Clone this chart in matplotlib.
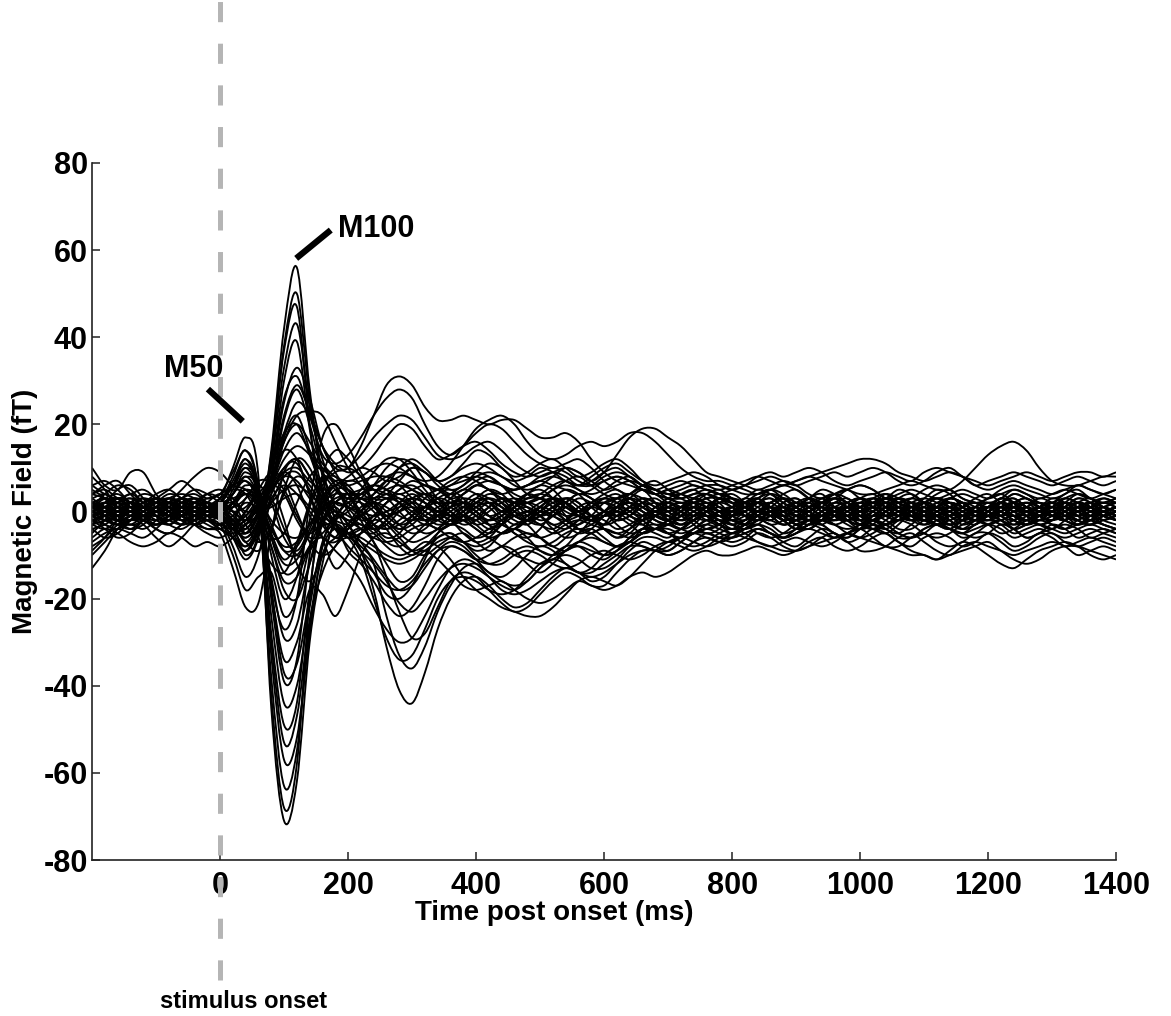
import numpy as np
import matplotlib
matplotlib.use("Agg")
import matplotlib.pyplot as plt
from matplotlib.path import Path
from matplotlib.patches import PathPatch

plt.rcParams['font.family'] = ['Liberation Sans', 'DejaVu Sans']
plt.rcParams['font.weight'] = 'bold'
plt.rcParams['axes.unicode_minus'] = False
plt.rcParams['lines.scale_dashes'] = False

# sampling grid of the traces (ms), one value every 20 ms
time_ms = np.arange(-200, 1401, 20)

# magnetic field per sensor (fT)
channels = [
    [2, 3, 1, -1, -2,  0, 2, 1, -1, 0,  1, -3, -10, -5, 14,  42, 56, 28, 8, -2,  -9, -12, -16, -21, -24,  -22, -17, -11, -8, -9,  -11, -10, -8, -9, -12,  -14, -12, -9, -7, -8,  -10, -9, -6, -4, -5,  -6, -4, -2, -1, -3,  -4, -3, -1, 0, -1,  -3, -2, 0, 1, -1,  -2, 0, 2, 1, -1,  -2, 0, 1, -1, -2,  0, 1, -1, -2, 0,  1, 2, 0, -1, 0,  1],
    [-2, -1, 1, 2, 1,  -1, -2, 0, 1, 0,  -1, -5, -9, -4, 12,  38, 50, 26, 9, 1,  -5, -9, -14, -19, -20,  -17, -11, -5, -3, -4,  -6, -5, -2, -1, -3,  -6, -8, -6, -3, -2,  -4, -6, -4, -1, 0,  -2, -3, -1, 1, 0,  -2, -1, 1, 2, 0,  -2, -1, 1, 3, 2,  0, -1, 1, 3, 2,  0, -2, -1, 1, 2,  0, -1, 1, 2, 1,  -1, 0, 2, 1, -1,  0],
    [1, 3, 4, 2, 0,  -1, 1, 3, 2, 0,  -2, -6, -9, -3, 13,  37, 47, 20, -1, -6,  -5, -4, -7, -12, -16,  -15, -10, -6, -5, -7,  -9, -8, -5, -4, -6,  -9, -10, -8, -5, -4,  -6, -8, -7, -4, -3,  -5, -6, -4, -2, -3,  -5, -3, -1, 0, -2,  -4, -3, -1, 0, -2,  -3, -1, 1, 0, -2,  -3, -1, 0, -2, -3,  -1, 0, -2, -3, -1,  0, -2, -3, -1, 0,  -2],
    [0, -1, -2, -1, 1,  2, 1, -1, -2, -1,  1, -2, -7, -2, 11,  33, 43, 24, 12, 6,  3, 4, 5, 4, 2,  0, -2, -1, 1, 2,  1, -1, -2, 0, 2,  3, 2, 0, -1, 1,  3, 4, 2, 0, -1,  1, 2, 1, -1, 0,  1, 2, 0, -1, 1,  2, 0, -2, -1, 1,  2, 0, -1, 1, 2,  0, -1, 0, 1, 2,  0, -1, 1, 2, 0,  -1, 0, 1, 2, 1,  0],
    [-4, -3, -1, 0, -2,  -3, -2, 0, 1, -1,  -2, -6, -11, -6, 8,  30, 39, 19, 5, -1,  0, 3, 6, 10, 12,  11, 7, 3, 2, 4,  6, 5, 3, 2, 4,  6, 5, 2, 0, 1,  3, 2, 0, -1, 0,  2, 1, -1, -2, 0,  1, -1, -2, 0, 1,  -1, -2, 0, 2, 1,  -1, 0, 2, 1, -1,  -2, 0, 1, -1, -2,  0, 1, -1, -2, 0,  1, -1, -2, 0, 1,  -1],
    [2, 1, 0, 1, 3,  2, 0, -1, 1, 2,  0, -4, -8, -3, 8,  25, 33, 26, 15, 10,  10, 15, 22, 29, 31,  29, 24, 21, 21, 22,  21, 20, 21, 21, 19,  17, 17, 18, 16, 12,  9, 7, 6, 5, 4,  5, 4, 3, 2, 2,  3, 2, 0, 1, 3,  2, 0, -1, 1, 2,  0, -1, 1, 3, 2,  0, 1, 2, 0, -1,  1, 3, 2, 0, 1,  2, 0, -1, 1, 2,  1],
    [-1, 0, 2, 3, 1,  -1, 0, 2, 1, -1,  0, -2, -5, 0, 10,  26, 31, 22, 13, 11,  13, 17, 22, 26, 28,  26, 20, 15, 13, 15,  18, 20, 19, 16, 13,  11, 10, 11, 12, 10,  7, 5, 4, 6, 7,  5, 3, 2, 3, 4,  3, 1, 0, 2, 3,  1, -1, 0, 2, 3,  1, 0, 2, 3, 1,  0, 1, 3, 2, 0,  1, 3, 2, 0, 1,  3, 2, 0, 1, 3,  2],
    [1, 0, -2, -3, -1,  1, 2, 0, -1, 0,  2, 0, -5, -1, 8,  22, 29, 23, 15, 9,  5, 3, 4, 7, 10,  11, 9, 7, 8, 11,  14, 13, 10, 8, 9,  11, 12, 10, 8, 9,  11, 12, 10, 7, 5,  4, 3, 4, 5, 4,  2, 1, 3, 4, 2,  0, 1, 3, 4, 2,  1, 2, 4, 3, 1,  0, 2, 3, 2, 0,  1, 3, 2, 0, 1,  2, 3, 2, 0, 1,  2],
    [4, 3, 1, 0, 1,  2, 1, -1, 0, 1,  -1, -4, -4, 0, 7,  18, 25, 22, 15, 11,  9, 10, 13, 17, 20,  19, 15, 12, 13, 15,  16, 14, 11, 9, 8,  9, 10, 9, 7, 6,  7, 8, 7, 5, 4,  3, 2, 2, 3, 3,  1, 0, 2, 3, 1,  -1, 0, 2, 3, 1,  0, 1, 3, 2, 0,  -1, 1, 2, 1, -1,  0, 2, 3, 1, 0,  1, 3, 2, 0, 1,  2],
    [-1, -2, -1, 0, 2,  3, 2, 0, -1, 0,  1, -1, -4, 0, 6,  16, 22, 23, 22, 16,  10, 6, 3, 3, 5,  7, 6, 5, 6, 8,  9, 8, 6, 5, 6,  8, 9, 8, 6, 7,  9, 10, 8, 6, 5,  4, 5, 6, 5, 4,  3, 2, 3, 5, 4,  2, 1, 2, 4, 5,  3, 2, 3, 5, 4,  2, 1, 3, 4, 3,  2, 3, 5, 4, 2,  1, 3, 4, 3, 2,  3],
    [0, 1, 2, 1, -1,  -2, -1, 1, 2, 1,  0, -2, -5, -1, 6,  16, 20, 16, 11, 8,  7, 8, 10, 11, 10,  8, 6, 5, 6, 7,  8, 7, 6, 5, 6,  7, 8, 7, 6, 6,  8, 9, 8, 6, 5,  4, 4, 5, 6, 6,  5, 4, 4, 5, 6,  7, 8, 7, 6, 5,  4, 4, 5, 6, 7,  6, 5, 5, 7, 10,  13, 15, 16, 14, 10,  7, 6, 6, 7, 8,  8],
    [2, 3, 2, 0, -1,  0, 2, 3, 2, 1,  0, -2, -3, 1, 6,  14, 18, 14, 10, 7,  6, 7, 8, 8, 7,  5, 4, 5, 7, 8,  7, 5, 4, 5, 6,  7, 6, 5, 4, 5,  7, 8, 7, 5, 4,  5, 6, 7, 6, 5,  6, 7, 8, 7, 6,  7, 8, 9, 10, 11,  12, 12, 11, 9, 8,  7, 8, 9, 8, 6,  5, 6, 7, 6, 5,  4, 5, 6, 5, 4,  5],
    [-3, -2, 0, 1, 0,  -2, -3, -1, 1, 0,  -1, -3, -2, 2, 6,  12, 15, 13, 9, 5,  2, 0, -1, 0, 2,  3, 2, 0, -1, 0,  2, 3, 1, -1, -2,  -1, 1, 2, 0, -2,  -1, 1, 2, 0, -2,  -3, -1, 1, 0, -2,  -1, 1, 2, 0, -2,  -1, 1, 2, 0, -2,  -1, 1, 2, 0, -2,  -1, 0, 2, 1, -1,  -2, 0, 1, -1, -2,  0, 2, 1, -1, 0,  1],
    [1, -1, -2, 0, 1,  -1, -2, 0, 2, 1,  -1, -3, -2, 2, 6,  10, 12, 8, 2, -4,  -8, -11, -14, -17, -18,  -16, -12, -9, -8, -9,  -11, -12, -11, -9, -8,  -9, -10, -9, -7, -6,  -7, -8, -7, -5, -4,  -5, -6, -5, -3, -2,  -3, -4, -3, -1, -2,  -4, -3, -1, 0, -2,  -3, -2, 0, 1, -1,  -2, -1, 1, 0, -1,  -2, -1, 1, 0, -1,  -2, 0, 1, -1, -2,  -1],
    [1, 2, 0, -1, 0,  1, 2, 1, 0, 1,  3, 10, 17, 8, -45,  -71, -62, -30, -12, -2,  2, 2, 0, -4, -8,  -10, -8, -5, -3, -2,  -4, -6, -5, -3, -2,  -3, -5, -4, -2, -1,  -2, -4, -3, -1, 0,  -1, -3, -2, 0, 1,  0, -1, -2, 0, 1,  -1, -2, 0, 1, 0,  -1, -2, 0, 1, 0,  -2, -1, 1, 0, -1,  -2, 0, 1, 0, -1,  -2, -1, 1, 0, -1,  -2],
    [-2, -1, 1, 2, 1,  0, -1, 0, 1, 0,  2, 8, 14, 4, -42,  -68, -58, -20, 4, 10,  10, 8, 2, -2, -5,  -7, -6, -4, -2, -1,  -2, -4, -3, -1, 0,  -1, -3, -2, 0, 1,  0, -2, -1, 1, 2,  1, -1, 0, 2, 1,  -1, 0, 2, 1, -1,  -2, 0, 1, -1, -2,  0, 1, 2, 0, -1,  0, 2, 1, -1, 0,  2, 1, -1, 0, 1,  -1, -2, 0, 1, -1,  0],
    [0, 1, 3, 2, 0,  -1, 0, 2, 3, 2,  2, 6, 12, 3, -38,  -63, -55, -26, -10, -6,  -3, 0, 2, 1, -1,  -2, -1, 1, 2, 1,  -1, -2, -1, 1, 2,  1, -1, -2, -1, 1,  2, 1, -1, -2, -1,  0, 1, 0, -1, 0,  1, 2, 0, -1, 0,  2, 1, -1, 0, 1,  -1, -2, 0, 1, 0,  -2, -1, 1, 2, 0,  -1, 0, 2, 1, -1,  0, 1, -1, -2, 0,  1],
    [-3, -4, -2, 0, 1,  0, -2, -3, -2, 0,  1, 4, 9, 2, -33,  -57, -52, -28, -8, -1,  -3, -9, -18, -31, -41,  -44, -37, -27, -20, -16,  -15, -17, -20, -22, -21,  -18, -15, -13, -14, -16,  -15, -12, -9, -7, -8,  -9, -7, -5, -4, -5,  -6, -5, -4, -5, -6,  -5, -3, -4, -6, -5,  -3, -2, -4, -5, -3,  -1, -2, -4, -5, -3,  -2, -3, -5, -4, -3,  -4, -5, -4, -3, -4,  -5],
    [2, 1, -1, -2, 0,  2, 3, 1, 0, -1,  0, 5, 10, 4, -30,  -53, -47, -25, -14, -8,  -6, -8, -12, -24, -33,  -36, -31, -23, -17, -13,  -12, -14, -16, -17, -16,  -13, -11, -10, -11, -13,  -13, -11, -8, -6, -6,  -7, -6, -4, -3, -4,  -5, -4, -2, -3, -5,  -4, -2, -1, -3, -4,  -3, -1, -2, -4, -4,  -2, -1, -2, -4, -3,  -1, -2, -4, -3, -2,  -3, -4, -3, -2, -3,  -4],
    [-1, 0, 1, 0, -2,  -3, -1, 1, 2, 1,  0, 4, 8, 3, -28,  -49, -44, -18, 0, 6,  5, -2, -7, -15, -23,  -29, -28, -22, -16, -14,  -15, -18, -21, -23, -22,  -19, -16, -14, -15, -17,  -17, -14, -11, -9, -9,  -10, -9, -7, -5, -6,  -7, -6, -4, -5, -7,  -8, -6, -4, -5, -7,  -6, -4, -5, -7, -8,  -6, -5, -6, -8, -7,  -5, -6, -8, -7, -5,  -6, -8, -7, -6, -7,  -8],
    [3, 4, 2, 0, -1,  1, 3, 4, 3, 1,  -1, 2, 6, 2, -24,  -44, -40, -22, -7, -3,  -5, -9, -12, -16, -21,  -23, -20, -16, -13, -12,  -13, -15, -17, -18, -16,  -13, -10, -8, -8, -10,  -11, -9, -6, -4, -4,  -5, -4, -2, -1, -2,  -3, -2, 0, -1, -3,  -2, 0, 1, -1, -2,  0, 2, 1, -1, -2,  0, 1, -1, -2, 0,  1, -1, -2, 0, 1,  -1, -2, 0, 1, -1,  -2],
    [0, -2, -3, -1, 1,  2, 0, -2, -1, 1,  2, 6, 11, 4, -20,  -39, -34, -10, 8, 14,  12, 8, 5, 6, 10,  12, 10, 7, 5, 6,  9, 11, 10, 7, 4,  3, 5, 7, 8, 6,  4, 3, 4, 6, 5,  3, 2, 3, 4, 3,  2, 3, 5, 4, 2,  1, 3, 5, 4, 2,  1, 3, 4, 2, 1,  2, 4, 5, 3, 2,  1, 2, 4, 3, 2,  2, 4, 5, 3, 2,  2],
    [-2, -3, -4, -2, 0,  1, -1, -3, -2, 0,  -1, 2, 5, 1, -18,  -34, -30, -18, -19, -24,  -18, -10, -6, -5, -7,  -9, -8, -6, -5, -7,  -10, -12, -12, -10, -9,  -10, -12, -13, -12, -10,  -9, -10, -11, -10, -8,  -7, -8, -9, -8, -6,  -5, -6, -7, -8, -9,  -9, -8, -7, -6, -5,  -6, -7, -8, -9, -10,  -10, -11, -10, -9, -8,  -7, -9, -11, -12, -11,  -9, -8, -8, -9, -10,  -11],
    [1, 2, 3, 1, -1,  -2, 0, 2, 1, -1,  -3, 1, 4, 1, -15,  -29, -26, -12, -2, 1,  -3, -7, -11, -15, -18,  -17, -13, -9, -7, -8,  -11, -14, -15, -13, -10,  -8, -9, -12, -14, -13,  -10, -8, -7, -8, -9,  -8, -6, -5, -6, -7,  -6, -4, -3, -5, -6,  -4, -2, -3, -5, -6,  -4, -2, -3, -5, -6,  -4, -3, -4, -6, -5,  -3, -2, -4, -6, -5,  -3, -4, -6, -5, -4,  -5],
    [-1, -2, -3, -4, -2,  0, 1, -1, -3, -4,  -5, -13, -22, -21, -5,  9, 11, 4, -6, -13,  -10, -5, -2, -3, -6,  -9, -10, -8, -6, -5,  -7, -9, -8, -6, -5,  -6, -8, -9, -7, -5,  -4, -5, -6, -5, -4,  -3, -4, -5, -4, -3,  -2, -3, -5, -6, -5,  -3, -2, -3, -5, -6,  -4, -2, -3, -5, -6,  -5, -3, -4, -5, -6,  -5, -3, -4, -6, -5,  -4, -3, -4, -6, -5,  -4],
    [2, 1, -1, -2, -1,  1, 2, 1, -1, -2,  -3, -10, -18, -15, -14,  -24, -20, -8, 2, 6,  4, 0, -3, -4, -3,  -1, 1, 2, 1, -1,  -2, 0, 2, 3, 2,  0, -1, 1, 3, 2,  0, -1, 0, 2, 1,  -1, -2, 0, 1, 0,  0, 1, -1, -2, 0,  1, 2, 0, -1, 0,  2, 1, -1, 0, 2,  1, -1, -2, 0, 1,  0, -1, 1, 2, 1,  -1, 0, 2, 1, -1,  0],
    [0, 2, 3, 2, 0,  -1, 0, 1, 0, -1,  -2, -8, -15, -10, 4,  17, 22, 14, 4, -3,  -4, -1, 2, 4, 3,  1, -1, -2, 0, 2,  4, 3, 1, -1, 0,  2, 3, 1, -1, -2,  -1, 1, 2, 1, -1,  -2, -1, 1, 2, 0,  -1, 1, 2, 0, -1,  1, 2, 0, -2, -1,  1, 2, 0, -1, 1,  2, 0, -1, 1, 2,  0, -1, 0, 2, 1,  -1, 0, 2, 1, 0,  1],
    [-2, -1, 0, 2, 3,  1, -1, 0, 2, 3,  4, 9, 14, 6, -16,  -27, -20, 2, 17, 20,  15, 9, 5, 4, 7,  10, 9, 6, 4, 5,  7, 8, 6, 3, 2,  3, 5, 6, 5, 3,  2, 3, 4, 3, 1,  0, 1, 2, 1, 0,  -1, 0, 2, 1, -1,  -2, 0, 1, 0, -1,  0, 2, 1, -1, -2,  0, 1, 0, -2, -1,  1, 2, 0, -1, 0,  2, 1, -1, 0, 1,  0],
    [1, 0, -1, 0, 2,  3, 2, 0, -1, 0,  2, 7, 12, 5, -10,  -20, -15, -2, 6, 9,  10, 13, 17, 20, 22,  21, 17, 13, 12, 13,  15, 16, 14, 11, 9,  8, 9, 10, 9, 7,  5, 6, 7, 6, 4,  3, 3, 4, 4, 3,  2, 1, 2, 4, 3,  1, 0, 2, 3, 2,  0, 1, 3, 2, 0,  -1, 1, 2, 1, 0,  1, 2, 1, 0, 1,  2, 1, 0, 1, 2,  1],
    [-1, -3, -4, -2, 1,  2, 0, -2, -1, 1,  2, 6, 10, 5, -6,  -14, -13, -8, -6, -9,  -12, -16, -22, -27, -30,  -29, -24, -18, -13, -11,  -12, -15, -18, -19, -18,  -16, -14, -13, -14, -15,  -14, -12, -10, -9, -9,  -10, -9, -7, -6, -7,  -8, -7, -5, -6, -8,  -9, -8, -6, -5, -7,  -9, -9, -8, -6, -5,  -7, -9, -10, -8, -7,  -8, -9, -10, -9, -8,  -7, -8, -10, -9, -8,  -9],
    [0, 1, 2, 3, 2,  0, -1, 0, 1, 2,  1, 4, 8, 4, -3,  -9, -10, -5, 1, 5,  5, 3, 3, 5, 6,  5, 3, 2, 4, 6,  8, 9, 8, 6, 5,  6, 8, 10, 9, 7,  9, 13, 17, 19, 19,  17, 15, 12, 9, 8,  7, 6, 5, 6, 7,  6, 4, 3, 4, 5,  6, 5, 3, 4, 5,  4, 3, 4, 5, 4,  3, 4, 5, 4, 3,  4, 5, 4, 3, 4,  5],
    [2, 1, 0, -1, 0,  2, 3, 2, 0, -1,  0, 2, 4, 3, -2,  -5, -6, -3, 2, 4,  4, 4, 6, 8, 9,  8, 7, 8, 11, 15,  19, 21, 22, 20, 16,  13, 12, 13, 15, 16,  15, 16, 18, 18, 16,  13, 10, 8, 7, 7,  6, 5, 4, 5, 6,  5, 3, 2, 3, 5,  6, 5, 3, 2, 3,  5, 6, 5, 3, 2,  3, 5, 6, 5, 4,  3, 4, 6, 5, 4,  3],
    [-2, -1, 1, 2, 1,  -1, -2, -1, 1, 2,  1, 0, -2, -1, 2,  5, 6, 4, 1, -2,  -3, -3, -5, -8, -10,  -9, -7, -8, -11, -15,  -18, -20, -22, -23, -24,  -24, -22, -19, -16, -15,  -16, -17, -15, -12, -9,  -7, -6, -7, -8, -7,  -5, -4, -3, -4, -6,  -5, -3, -2, -3, -5,  -6, -5, -3, -2, -3,  -5, -6, -5, -3, -2,  -3, -5, -4, -2, -1,  -3, -4, -2, -1, -3,  -4],
    [-8, -6, -3, -1, -2,  -4, -5, -3, -1, -2,  -3, -4, -2, 0, 1,  3, 4, 1, -2, -4,  -5, -6, -8, -10, -11,  -10, -9, -11, -14, -17,  -18, -17, -16, -18, -20,  -21, -20, -18, -16, -17,  -18, -17, -15, -14, -15,  -14, -12, -10, -9, -10,  -10, -9, -8, -9, -10,  -9, -7, -6, -8, -9,  -8, -6, -5, -7, -9,  -10, -11, -9, -7, -8,  -10, -12, -13, -11, -9,  -8, -7, -8, -10, -11,  -10],
    [-13, -9, -4, -2, -3,  -6, -8, -6, -3, -2,  -4, -6, -8, -5, 2,  8, 9, 5, 0, -4,  -6, -5, -3, -1, 0,  1, 0, -2, -3, -1,  1, 2, 0, -2, -3,  -1, 1, 2, 0, -2,  -3, -1, 1, 0, -2,  -3, -4, -2, 0, -1,  -3, -4, -2, 0, 1,  0, -2, -3, -1, 1,  0, -2, -3, -1, 1,  0, -2, -3, -2, 0,  1, 0, -2, -3, -1,  0, -1, -3, -2, 0,  -1],
    [10, 6, 5, 9, 9,  4, 1, 0, 2, 1,  0, 2, 4, 2, -6,  -12, -11, -5, 0, 2,  1, -1, -3, -4, -2,  0, 1, -1, -3, -2,  0, 2, 1, -1, -2,  0, 2, 3, 1, -1,  0, 2, 3, 1, -1,  -2, 0, 2, 1, -1,  -2, 0, 2, 3, 1,  -1, 0, 2, 1, -1,  -2, 0, 2, 1, -1,  -2, 0, 1, 2, 0,  -1, 1, 2, 0, -1,  0, 2, 1, -1, 0,  1],
    [-10, -7, -4, -3, -4,  -2, 2, 5, 8, 10,  9, 6, 5, 1, -8,  -16, -15, -8, -2, 0,  -1, -3, -4, -2, 1,  3, 2, 0, -2, -1,  1, 3, 2, 0, -1,  1, 3, 2, 0, -2,  -1, 1, 3, 2, 0,  -1, 1, 2, 1, -1,  0, 2, 3, 1, 0,  1, 3, 2, 0, 1,  2, 1, -1, 0, 2,  3, 2, 0, -1, 1,  2, 0, -1, 1, 2,  1, -1, 0, 2, 3,  2],
    [-6, -4, -5, -7, -8,  -7, -5, -6, -8, -7,  -8, -6, -3, -1, 4,  10, 12, 8, 3, 0,  -2, -4, -6, -7, -6,  -4, -3, -4, -6, -7,  -6, -4, -3, -5, -7,  -8, -7, -5, -4, -5,  -7, -8, -7, -5, -4,  -5, -7, -8, -7, -5,  -4, -5, -7, -8, -7,  -6, -7, -8, -7, -5,  -4, -6, -8, -8, -6,  -5, -7, -8, -7, -5,  -5, -7, -9, -8, -6,  -5, -7, -8, -7, -6,  -7],
    [6, 7, 5, 2, 1,  3, 5, 7, 5, 3,  4, 6, 7, 3, -4,  -8, -7, -3, 1, 3,  4, 5, 6, 5, 4,  5, 6, 5, 3, 4,  6, 7, 6, 4, 3,  4, 6, 7, 5, 4,  5, 7, 8, 6, 5,  6, 7, 6, 5, 4,  5, 6, 7, 8, 7,  6, 7, 8, 9, 8,  9, 10, 9, 7, 6,  7, 9, 10, 8, 6,  7, 8, 9, 8, 7,  6, 7, 8, 7, 6,  7],
    [4, 5, 3, 1, 2,  4, 5, 3, 2, 4,  5, 3, 0, 1, 5,  9, 10, 7, 5, 6,  8, 10, 9, 7, 8,  10, 9, 7, 8, 10,  11, 10, 8, 7, 8,  10, 9, 7, 6, 8,  10, 11, 9, 7, 6,  7, 8, 9, 8, 6,  5, 6, 8, 9, 8,  9, 10, 9, 7, 6,  7, 8, 9, 8, 7,  9, 10, 9, 8, 7,  6, 7, 8, 9, 8,  7, 8, 9, 9, 8,  9],
    [0, 1, 0, -1, 0,  1, 0, -1, 0, 1,  2, 3, 4, 1, -4,  -9, -8, -3, 1, 2,  1, 0, -1, 0, 1,  2, 1, 0, 1, 2,  1, -1, 0, 2, 1,  -1, 0, 1, -1, -2,  0, 1, -1, -2, 0,  1, 0, -1, 0, 2,  1, -1, 0, 1, 0,  -1, 0, 1, 0, -1,  0, 1, 0, -1, 0,  1, 0, -1, 0, 1,  0, -1, 0, 1, 0,  -1, 0, 1, 0, -1,  0],
    [-1, 0, -1, -2, -1,  0, -1, -2, -1, 0,  -1, -2, -1, 2, 5,  8, 7, 3, -1, -3,  -5, -7, -9, -11, -12,  -11, -9, -7, -6, -7,  -8, -7, -5, -4, -5,  -6, -5, -3, -2, -3,  -4, -5, -4, -2, -1,  -2, -3, -2, -1, -2,  -3, -2, -1, -2, -3,  -2, -1, -2, -3, -2,  -1, -2, -3, -2, -1,  -2, -3, -2, -1, -2,  -3, -2, -1, -2, -3,  -2, -1, -2, -3, -2,  -1],
    [2, 0, -2, -1, 1,  2, 1, -1, -2, 0,  1, 4, 7, 2, -18,  -37, -35, -20, -8, -4,  -6, -11, -20, -29, -34,  -33, -27, -20, -16, -15,  -16, -18, -19, -18, -15,  -12, -11, -12, -14, -14,  -12, -10, -8, -8, -9,  -9, -7, -5, -5, -6,  -6, -5, -4, -5, -6,  -5, -4, -5, -6, -5,  -4, -3, -4, -6, -6,  -4, -3, -4, -5, -4,  -3, -4, -6, -5, -4,  -5, -6, -5, -4, -5,  -6],
    [0, -1, 0, 2, 1,  -1, 0, 2, 1, 0,  -1, -3, -6, -2, 6,  21, 28, 20, 9, 2,  2, 5, 9, 12, 12,  9, 5, 2, 0, -2,  -4, -6, -8, -10, -11,  -12, -11, -9, -8, -9,  -10, -9, -7, -5, -4,  -4, -5, -4, -2, -1,  -2, -3, -2, 0, 1,  -1, -2, -1, 1, 0,  -2, -1, 1, 0, -1,  -2, 0, 1, -1, -2,  -1, 1, 0, -2, -1,  0, 1, -1, -2, 0,  1],
    [5, 3, -1, -3, -2,  1, 3, 2, -1, -3,  -4, -2, 3, 6, 2,  -6, -9, -4, 3, 7,  6, 2, -3, -6, -5,  -1, 3, 5, 3, 0,  -3, -5, -3, 1, 4,  5, 3, -1, -4, -5,  -3, 1, 4, 5, 2,  -2, -4, -3, 0, 3,  4, 2, -1, -3, -2,  1, 3, 4, 1, -2,  -4, -3, 0, 3, 4,  2, -1, -3, -2, 1,  3, 4, 2, -1, -3,  -2, 1, 3, 2, -1,  -2],
    [-4, -6, -5, -2, 1,  3, 2, -1, -3, -2,  0, -3, -7, -9, -4,  4, 8, 6, 1, -3,  -5, -4, -1, 2, 3,  1, -2, -4, -3, 0,  2, 1, -2, -5, -6,  -4, 0, 3, 2, -1,  -4, -6, -5, -2, 1,  2, 0, -3, -5, -4,  -1, 2, 3, 1, -2,  -4, -3, 0, 2, 1,  -2, -4, -5, -3, 0,  2, 1, -2, -4, -3,  0, 2, 1, -1, -3,  -4, -2, 1, 2, 0,  -2],
    [0, 2, 5, 6, 3,  -1, -3, -1, 2, 4,  3, 0, -2, 1, 8,  14, 12, 4, -3, -6,  -4, 0, 4, 7, 6,  3, 0, -1, 1, 4,  6, 5, 2, -1, -2,  0, 3, 5, 4, 1,  -1, 0, 3, 5, 4,  2, 1, 2, 4, 5,  3, 1, 0, 2, 4,  5, 3, 0, -1, 1,  3, 4, 2, 0, 1,  3, 5, 4, 1, -1,  0, 2, 4, 3, 1,  0, 2, 4, 3, 1,  0],
    [3, 1, -2, -4, -3,  0, 2, 1, -2, -4,  -3, -1, 2, 0, -8,  -18, -20, -12, -3, 2,  3, 0, -4, -7, -8,  -6, -3, -1, -2, -5,  -7, -6, -3, 0, 1,  -1, -4, -6, -5, -2,  0, -1, -3, -5, -4,  -2, 0, 1, -1, -3,  -4, -2, 0, 1, -1,  -3, -4, -2, 0, 1,  -1, -3, -4, -2, 0,  1, -1, -3, -4, -2,  0, 1, -1, -3, -2,  0, 1, -1, -2, -1,  0],
    [-5, -2, 2, 4, 2,  -1, -3, -4, -2, 1,  3, 5, 4, -1, -6,  -5, 2, 8, 10, 6,  1, -2, -1, 2, 5,  6, 4, 1, -1, 0,  3, 5, 4, 1, -2,  -3, -1, 2, 4, 3,  0, -2, -1, 2, 3,  1, -1, -2, 0, 2,  3, 1, -1, -2, 0,  2, 3, 1, -1, -1,  1, 3, 2, 0, -2,  -1, 1, 3, 2, 0,  -1, 0, 2, 3, 1,  -1, -1, 1, 2, 1,  0],
    [8, 5, 1, -1, 0,  2, 1, -2, -3, -1,  1, 2, -1, -6, -12,  -14, -8, 1, 7, 8,  4, -1, -4, -3, 0,  3, 4, 2, -1, -3,  -2, 1, 3, 2, -1,  -3, -4, -2, 1, 2,  0, -3, -5, -4, -1,  1, 0, -2, -4, -3,  0, 2, 1, -1, -3,  -2, 0, 1, -1, -3,  -4, -2, 0, 1, -1,  -3, -2, 0, 2, 1,  -1, -3, -2, 0, 1,  0, -2, -3, -1, 0,  -1],
    [-7, -5, -4, -5, -6,  -4, -1, 1, 0, -2,  -4, -5, -3, 2, 10,  18, 20, 13, 5, 0,  -2, -1, 1, 3, 2,  -1, -3, -2, 1, 3,  2, -1, -3, -4, -2,  1, 3, 2, -1, -2,  -1, 1, 2, 0, -2,  -3, -1, 1, 2, 0,  -2, -3, -1, 1, 0,  -2, -3, -2, 0, 1,  -1, -2, -1, 1, 2,  0, -2, -3, -1, 1,  2, 0, -2, -3, -1,  1, 2, 0, -2, -3,  -4],
    [1, 4, 6, 5, 2,  0, 1, 3, 4, 2,  -1, -4, -6, -3, 3,  6, 4, 0, -3, -2,  1, 4, 6, 5, 2,  -1, -2, 0, 3, 5,  4, 2, 0, 1, 3,  4, 3, 1, 0, 2,  4, 5, 3, 1, 0,  2, 4, 5, 3, 1,  0, 2, 4, 5, 3,  1, 0, 2, 4, 3,  1, -1, 0, 2, 3,  2, 0, -1, 1, 3,  4, 2, 0, 1, 3,  2, 0, -1, 1, 2,  3],
    [-2, -4, -6, -5, -2,  1, 2, 0, -3, -5,  -6, -4, 0, 5, 9,  7, 0, -7, -10, -8,  -3, 1, 2, 0, -3,  -5, -4, -1, 2, 2,  0, -3, -5, -4, -1,  1, 0, -2, -4, -3,  -1, 0, -1, -3, -4,  -2, 0, 1, -1, -3,  -4, -3, -1, 0, -1,  -3, -4, -2, 0, -1,  -3, -4, -3, -1, 0,  -1, -3, -4, -2, 0,  -1, -2, -4, -3, -1,  0, -2, -3, -2, 0,  -1],
    [4, 6, 7, 4, 1,  -1, 0, 3, 5, 4,  2, 0, 1, 4, 3,  -4, -10, -9, -3, 2,  4, 3, 1, -1, 0,  2, 4, 3, 0, -2,  -1, 1, 3, 2, 0,  -2, -1, 2, 4, 3,  0, -1, 1, 3, 2,  0, -2, -1, 1, 3,  2, 0, -2, -1, 2,  3, 1, -1, -2, 0,  2, 3, 1, -1, 0,  2, 3, 2, 0, -1,  1, 3, 2, 0, -2,  -1, 1, 3, 2, 0,  1],
    [0, -2, -1, 2, 4,  3, 0, -2, -1, 2,  4, 2, -3, -7, -4,  5, 12, 10, 3, -3,  -6, -5, -2, 2, 4,  2, -1, -3, -2, 1,  3, 2, -1, -3, -2,  1, 3, 2, -1, -2,  0, 3, 4, 2, -1,  -2, 0, 3, 4, 2,  -1, -2, 0, 2, 3,  1, -1, -2, 0, 2,  3, 1, -1, -2, 0,  2, 3, 1, -1, -2,  0, 2, 3, 1, -1,  -2, 0, 2, 1, -1,  0],
    [-3, 0, 3, 2, -1,  -4, -5, -3, 0, 1,  -1, -4, -5, -1, 5,  9, 6, -1, -6, -7,  -4, 0, 3, 3, 0,  -3, -5, -4, -1, 1,  0, -3, -5, -4, -2,  0, -1, -3, -5, -4,  -1, 1, 0, -2, -4,  -3, -1, 1, 0, -2,  -4, -3, 0, 1, -1,  -3, -4, -2, 0, -1,  -3, -4, -2, 0, 1,  -1, -3, -4, -2, 0,  1, -1, -3, -2, 0,  1, 0, -2, -3, -1,  0],
    [6, 4, 3, 4, 5,  3, 0, -2, -1, 1,  2, 1, 3, 7, 6,  -2, -12, -16, -10, -2,  3, 4, 2, -1, -3,  -2, 1, 3, 2, -1,  -3, -2, 0, 2, 1,  -1, -3, -4, -2, 1,  2, 0, -2, -3, -1,  1, 2, 0, -2, -3,  -1, 1, 2, 0, -2,  -1, 1, 2, 0, -2,  -3, -1, 1, 2, 0,  -2, -3, -1, 1, 2,  0, -2, -3, -1, 1,  2, 0, -2, -3, -1,  0],
    [-9, -6, -2, 0, -1,  -3, -2, 1, 3, 2,  -1, -3, -1, 3, 6,  4, -2, -6, -5, -1,  2, 3, 1, -2, -4,  -3, 0, 3, 4, 2,  -1, -3, -2, 1, 3,  3, 1, -2, -3, -1,  2, 3, 1, -1, -3,  -2, 1, 3, 2, 0,  -2, -2, 0, 2, 3,  1, -1, -2, 0, 2,  3, 1, -1, -2, 0,  2, 1, -1, -3, -2,  0, 2, 1, -1, -2,  -1, 1, 2, 0, -2,  -3],
    [2, -1, -3, -2, 0,  2, 4, 3, 0, -2,  -1, 2, 5, 3, -5,  -11, -7, 2, 8, 6,  0, -4, -5, -2, 2,  4, 2, -1, -3, -1,  2, 4, 3, 0, -2,  -1, 1, 3, 2, -1,  -3, -2, 1, 3, 2,  0, -2, -1, 1, 3,  2, -1, -2, 0, 2,  3, 1, -1, -2, 1,  3, 2, 0, -2, -1,  1, 3, 2, 0, -2,  -1, 1, 2, 1, -1,  -2, 0, 2, 3, 1,  0],
    [-1, 1, 3, 1, -2,  -3, -1, 2, 3, 1,  -2, -3, 0, 4, 7,  5, -1, -5, -2, 4,  7, 6, 2, -2, -4,  -2, 1, 4, 5, 3,  0, -2, -1, 2, 4,  3, 1, -1, 0, 2,  3, 2, 0, -1, 1,  3, 4, 2, 0, -1,  1, 3, 2, 0, -1,  0, 2, 3, 1, -1,  0, 2, 3, 2, 0,  -1, 1, 3, 2, 0,  -1, 0, 2, 3, 1,  -1, 0, 2, 1, 0,  1],
]

x_ticks = [0, 200, 400, 600, 800, 1000, 1200, 1400]
y_ticks = [-80, -60, -40, -20, 0, 20, 40, 60, 80]
onset_ms = 0


def smooth_path(x, y):
    # Catmull-Rom curve through the samples, drawn as cubic Bezier pieces
    p = np.column_stack([x, y]).astype(float)
    d = np.zeros_like(p)
    d[1:-1] = (p[2:] - p[:-2]) / 6.0
    d[0] = (p[1] - p[0]) / 3.0
    d[-1] = (p[-1] - p[-2]) / 3.0
    verts = [p[0]]
    for i in range(len(p) - 1):
        verts += [p[i] + d[i], p[i + 1] - d[i + 1], p[i + 1]]
    codes = [Path.MOVETO] + [Path.CURVE4] * (3 * (len(p) - 1))
    return Path(verts, codes)


fig = plt.figure(figsize=(11.71, 10.16), dpi=100)
ax = fig.add_axes([0.0786, 0.1535, 0.8745, 0.6861])

for ch in channels:
    n = min(len(ch), len(time_ms))
    ax.add_patch(PathPatch(smooth_path(time_ms[:n], ch[:n]), fill=False,
                           edgecolor='black', linewidth=1.35, zorder=2))

ax.set_xlim(-200, 1400)
ax.set_ylim(-80, 80)
ax.set_xticks(x_ticks)
ax.set_yticks(y_ticks)

for s in ['top', 'right']:
    ax.spines[s].set_visible(False)
for s in ['left', 'bottom']:
    ax.spines[s].set_linewidth(1.2)
    ax.spines[s].set_color('#222222')

ax.tick_params(direction='in', length=6, width=1.1, color='#222222',
               labelsize=22)
ax.tick_params(axis='x', pad=8)
ax.tick_params(axis='y', pad=3)

ax.set_xlabel('Time post onset (ms)', fontsize=20, fontweight='bold')
ax.xaxis.set_label_coords(0.451, -0.058)
ax.set_ylabel('Magnetic Field (fT)', fontsize=20, fontweight='bold', labelpad=4)

# stimulus onset marker, running past the axes
ax.axvline(onset_ms, ymin=-0.172, ymax=1.24, clip_on=False, color='#b5b5b5',
           linewidth=3.6, dashes=(14.5, 15.5), zorder=3)
fig.text(0.2084, 0.008, 'stimulus onset', ha='center', va='baseline',
         fontsize=17, fontweight='bold')

# component labels
ax.plot([-19, 35.5], [28.1, 20.7], color='black', linewidth=4.5,
        solid_capstyle='butt', zorder=4)
ax.text(-88, 30.8, 'M50', fontsize=22, fontweight='bold', ha='left', va='baseline')
ax.plot([119, 173], [58.1, 64.6], color='black', linewidth=4.5,
        solid_capstyle='butt', zorder=4)
ax.text(184, 63.1, 'M100', fontsize=22, fontweight='bold', ha='left', va='baseline')

fig.savefig('out.png', dpi=100)
